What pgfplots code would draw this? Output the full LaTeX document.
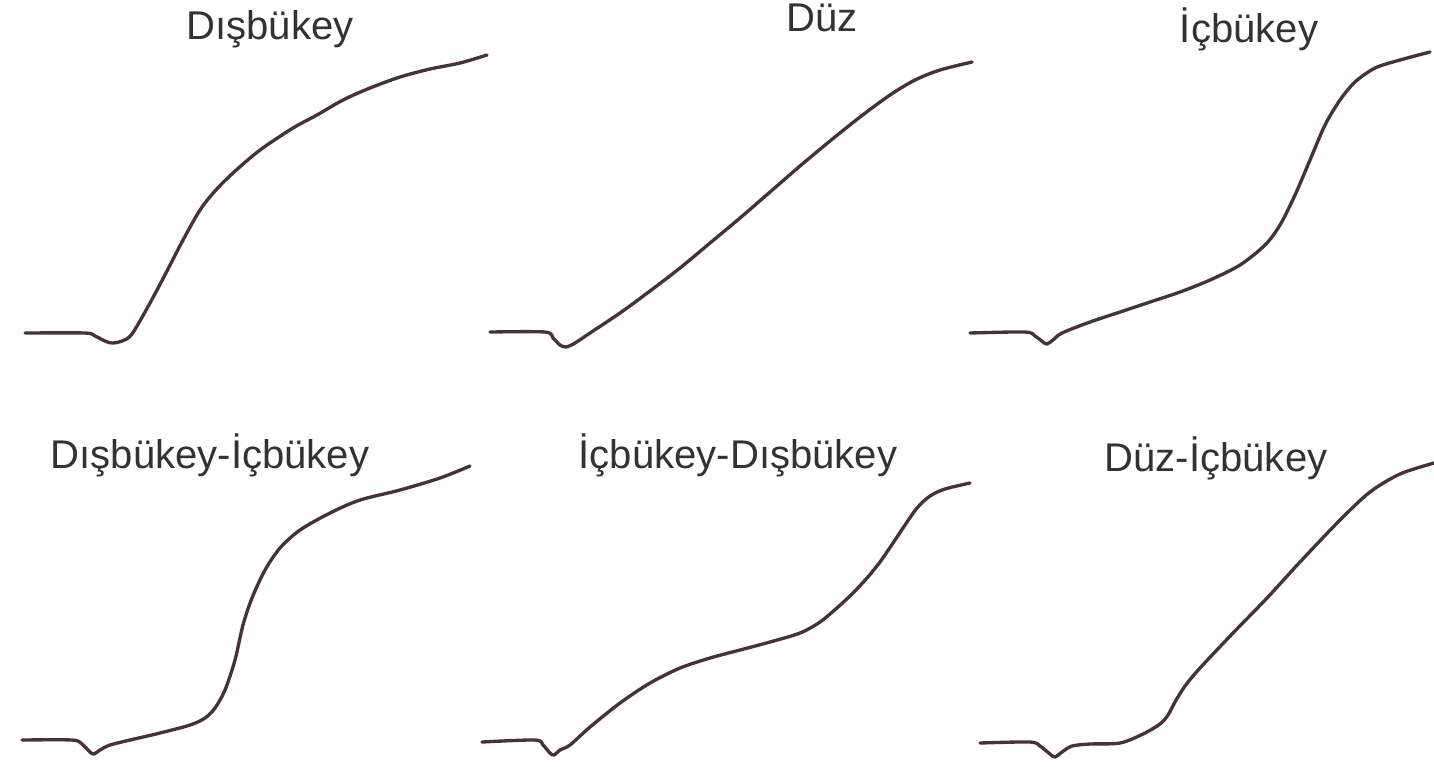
\documentclass[border=0pt]{standalone}
\usepackage{pgfplots}
\pgfplotsset{compat=1.18}
\usepackage{fontspec}
\setmainfont{Liberation Sans}
\definecolor{curve}{RGB}{70,50,55}
\definecolor{ttl}{RGB}{50,50,50}
\tikzset{crv/.style={draw=curve, no markers, solid, line width=0.95pt, smooth, tension=0.5, line cap=round, line join=round}}
\begin{document}
\begin{tikzpicture}
\begin{axis}[name=ax, anchor=south west, at={(0,0)},
  scale only axis, width=14.34cm, height=7.66cm,
  xmin=0, xmax=1434, ymin=0, ymax=766, y dir=reverse,
  hide axis, clip=true,
]
\addplot[crv] coordinates {(25,333)(85,333)(95,336)(105,341)(112,343)(122,341)(132,334)(150,303)(167,271)(183,240)(200,210)(215,191)(233,173)(260,150)(293,128)(317,115)(343,100)(370,88)(400,77)(430,69)(460,63)(487,55)};
\addplot[crv] coordinates {(490,332)(545,332)(553,338)(560,345)(566,347)(575,343)(590,333)(620,313)(650,291)(680,268)(710,243)(740,218)(770,192)(800,166)(830,141)(860,117)(890,95)(915,80)(940,70)(972,62)};
\addplot[crv] coordinates {(970,333)(1025,332)(1035,336)(1043,342)(1047,344)(1053,340)(1062,333)(1090,322)(1120,312)(1150,302)(1180,292)(1210,280)(1240,265)(1265,245)(1280,225)(1295,195)(1310,160)(1325,125)(1340,100)(1355,82)(1375,68)(1400,60)(1430,52)};
\addplot[crv] coordinates {(22,740)(72,740)(82,744)(90,752)(94,754)(100,750)(110,745)(130,740)(160,733)(190,725)(205,718)(215,708)(225,690)(235,660)(243,625)(252,598)(265,570)(280,548)(300,530)(330,513)(360,500)(400,490)(440,478)(470,466)};
\addplot[crv] coordinates {(482,742)(535,740)(543,745)(550,753)(554,755)(560,750)(570,745)(590,727)(620,703)(650,683)(680,668)(710,658)(740,650)(770,642)(800,633)(820,622)(838,607)(853,593)(867,578)(880,562)(893,543)(905,525)(917,508)(930,496)(945,489)(970,483)};
\addplot[crv] coordinates {(980,743)(1030,742)(1040,746)(1050,754)(1055,757)(1062,752)(1072,746)(1090,744)(1120,743)(1143,734)(1160,724)(1168,715)(1175,702)(1185,686)(1200,668)(1233,633)(1267,598)(1300,562)(1340,520)(1370,492)(1400,474)(1434,463)};
\begin{scope}[every node/.style={text=ttl, font=\fontsize{11.4}{13}\selectfont}]
\node at (axis cs:270,29) {Dışbükey};
\node at (axis cs:822,18) {Düz};
\node at (axis cs:1249,29) {İçbükey};
\node at (axis cs:210,455) {Dışbükey-İçbükey};
\node at (axis cs:738,455) {İçbükey-Dışbükey};
\node at (axis cs:1216,458) {Düz-İçbükey};
\end{scope}
\end{axis}
\pgfresetboundingbox
\path[use as bounding box] (ax.south west) rectangle (ax.north east);
\end{tikzpicture}
\end{document}
